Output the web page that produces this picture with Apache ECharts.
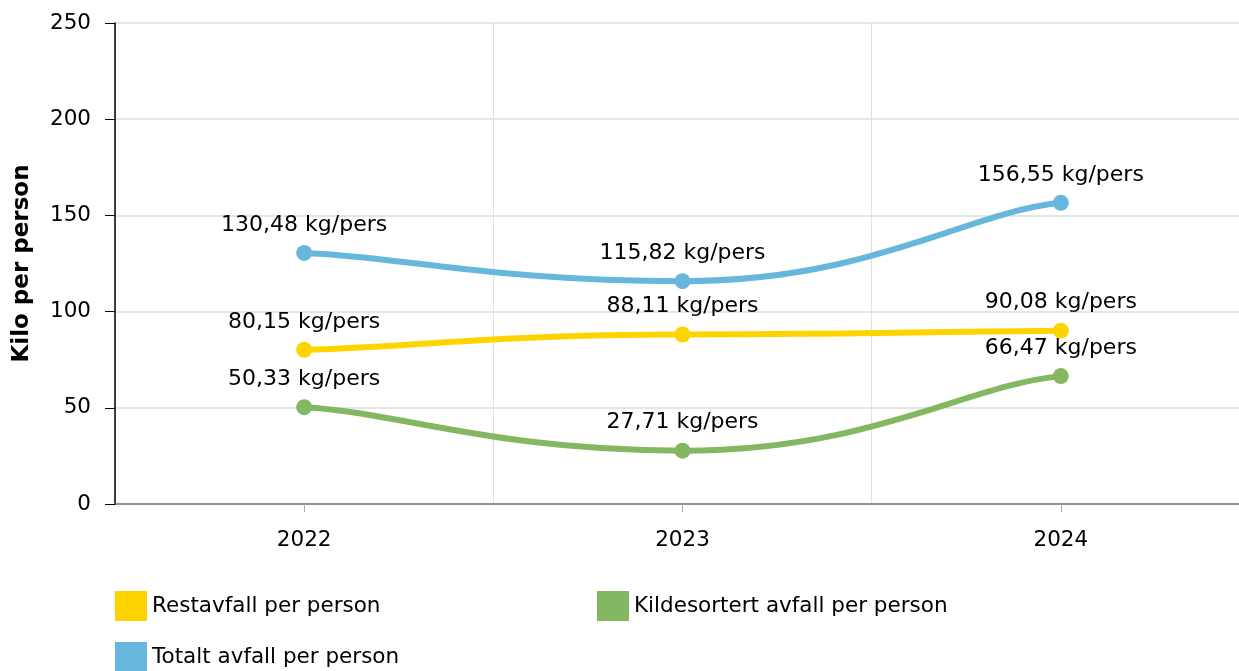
<!DOCTYPE html>
<html>
<head>
<meta charset="utf-8">
<script src="https://cdn.jsdelivr.net/npm/echarts@6/dist/echarts.min.js"></script>
<style>html,body{margin:0;padding:0;background:#fff;overflow:hidden}#c{width:1250px;height:671px}</style>
</head>
<body>
<div id="c"></div>
<script>
const categories = ['2022', '2023', '2024'];
const restavfall = [80.15, 88.11, 90.08];
const kildesortert = [50.33, 27.71, 66.47];
const totalt = [130.48, 115.82, 156.55];
const seriesNames = ['Restavfall per person', 'Kildesortert avfall per person', 'Totalt avfall per person'];
const yTicks = { min: 0, max: 250, interval: 50 };
const colors = ['#fdd400', '#84b761', '#67b7dc'];
const FONT = 'DejaVu Sans';

const fmt = v => v.toFixed(2).replace('.', ',') + ' kg/pers';

// Smoothed curve drawn via the chart's own scales (api.coord)
function curveSeries(values, color) {
  return {
    type: 'custom', name: '_curve', silent: true, z: 1,
    coordinateSystem: 'cartesian2d',
    encode: { x: 0, y: 1 },
    data: values.map((v, i) => [i, v]),
    renderItem: (params, api) => {
      if (params.dataIndex !== 0) return null;
      const pts = values.map((v, i) => api.coord([i, v]));
      const n = pts.length;
      const children = [];
      for (let i = 0; i < n - 1; i++) {
        const p = pts[i], q = pts[i + 1];
        const dx = q[0] - p[0];
        const startEnd = i === 0, endEnd = i + 1 === n - 1;
        const f1 = startEnd ? 0.25 : 0.5;
        const f2 = endEnd ? 0.25 : 0.5;
        const cpy1 = startEnd ? p[1] + 0.12 * (q[1] - p[1]) : p[1];
        const cpy2 = endEnd ? q[1] + 0.12 * (p[1] - q[1]) : q[1];
        children.push({
          type: 'bezierCurve',
          shape: { x1: p[0], y1: p[1], cpx1: p[0] + f1 * dx, cpy1, cpx2: q[0] - f2 * dx, cpy2, x2: q[0], y2: q[1] },
          style: { stroke: color, lineWidth: 6, fill: null, lineCap: 'round' }
        });
      }
      return { type: 'group', children };
    }
  };
}

function mkSeries(name, data, color) {
  return {
    name, type: 'line', data, z: 3,
    symbol: 'circle', symbolSize: 16,
    lineStyle: { width: 0, opacity: 0, color },
    itemStyle: { color },
    label: {
      show: true, position: 'top', distance: 9,
      formatter: p => fmt(p.value),
      fontFamily: FONT, fontSize: 22, color: '#000'
    },
    emphasis: { disabled: true }
  };
}

const legendBase = {
  icon: 'rect', itemWidth: 32, itemHeight: 30, padding: 0,
  textStyle: { fontFamily: FONT, fontSize: 21.5, color: '#000' },
  selectedMode: false
};

const chart = echarts.init(document.getElementById('c'), null, { renderer: 'canvas' });
chart.setOption({
  animation: false,
  color: colors,
  grid: { left: 115, top: 23, bottom: 167, right: 0, containLabel: false },
  legend: [
    Object.assign({}, legendBase, { data: [seriesNames[0]], left: 115, top: 591 }),
    Object.assign({}, legendBase, { data: [seriesNames[1]], left: 597, top: 591 }),
    Object.assign({}, legendBase, { data: [seriesNames[2]], left: 115, top: 642 })
  ],
  xAxis: {
    type: 'category', data: categories, boundaryGap: true,
    axisLine: { lineStyle: { color: '#777', width: 1.5 } },
    axisTick: { show: true, alignWithLabel: true, length: 8, lineStyle: { color: '#aaa' } },
    axisLabel: { fontFamily: FONT, fontSize: 21.5, color: '#000', margin: 25 },
    splitLine: { show: true, lineStyle: { color: '#e0e0e0', width: 1 } }
  },
  yAxis: {
    type: 'value', min: yTicks.min, max: yTicks.max, interval: yTicks.interval,
    name: 'Kilo per person', nameLocation: 'middle', nameGap: 81,
    nameTextStyle: { fontFamily: FONT, fontSize: 23, fontWeight: 'bold', color: '#000' },
    axisLine: { show: true, lineStyle: { color: '#000', width: 1.5 } },
    axisTick: { show: true, length: 10, lineStyle: { color: '#000' } },
    axisLabel: { fontFamily: FONT, fontSize: 21.5, color: '#000', margin: 24 },
    splitLine: { show: true, lineStyle: { color: '#dcdcdc', width: 1.5 } }
  },
  series: [
    curveSeries(totalt, colors[2]),
    curveSeries(restavfall, colors[0]),
    curveSeries(kildesortert, colors[1]),
    mkSeries(seriesNames[0], restavfall, colors[0]),
    mkSeries(seriesNames[1], kildesortert, colors[1]),
    mkSeries(seriesNames[2], totalt, colors[2])
  ]
});
</script>
</body>
</html>
